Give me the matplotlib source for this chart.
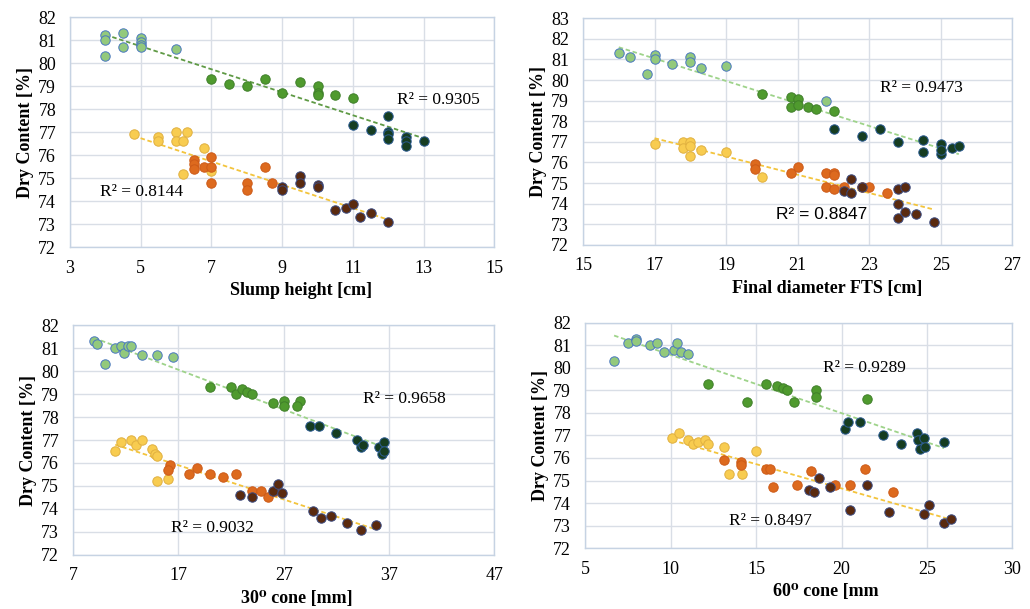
import matplotlib
matplotlib.use('Agg')
import matplotlib.pyplot as plt
import numpy as np

# dry content vs. workability tests, 6 mix groups per panel
# group order: light green, green, dark green, yellow, orange, brown

# --- slump height [cm]
slump_x = [
    [4, 4, 4, 4.5, 4.5, 5, 5, 5, 5, 6],
    [7, 7.5, 8, 8.5, 9, 9.5, 10, 10, 10, 10.5, 11],
    [11, 11.5, 12, 12, 12, 12, 12.5, 12.5, 12.5, 13],
    [4.8, 5.5, 5.5, 6, 6, 6.2, 6.3, 6.2, 6.8, 7],
    [6.5, 6.5, 6.5, 6.8, 7, 7, 7, 8, 8, 8.5, 8.7],
    [9, 9, 9.5, 9.5, 10, 10, 10.5, 10.8, 11, 11.2, 11.5, 12],
]
slump_y = [
    [81.2, 81.0, 80.3, 81.3, 80.7, 81.1, 80.9, 80.8, 80.7, 80.6],
    [79.3, 79.1, 79.0, 79.3, 78.7, 79.2, 79.0, 78.7, 78.6, 78.6, 78.5],
    [77.3, 77.1, 77.7, 77.0, 76.9, 76.7, 76.8, 76.6, 76.4, 76.6],
    [76.9, 76.8, 76.6, 77.0, 76.6, 76.6, 77.0, 75.2, 76.3, 75.3],
    [75.8, 75.6, 75.4, 75.5, 75.9, 75.5, 74.8, 74.8, 74.5, 75.5, 74.8],
    [74.6, 74.5, 75.1, 74.8, 74.7, 74.6, 73.6, 73.7, 73.9, 73.3, 73.5, 73.1],
]

# --- final diameter FTS [cm]
fts_x = [
    [16, 16.3, 16.8, 17, 17, 17.5, 18, 18, 18.3, 19, 21.8],
    [20, 20.8, 20.8, 21, 21, 21.3, 21.5, 22],
    [22, 22.8, 23.3, 23.8, 24.5, 24.5, 25, 25, 25.3, 25.5, 25],
    [17, 17.8, 17.8, 18, 18, 18, 18.3, 19, 20],
    [19.8, 19.8, 20.8, 21, 21.8, 22, 22, 21.8, 22, 22.3, 22.8, 23, 23.5],
    [22.3, 22.5, 22.5, 22.8, 23.8, 24, 23.8, 23.8, 24, 24.3, 24.8],
]
fts_y = [
    [81.3, 81.1, 80.3, 81.2, 81.0, 80.8, 81.1, 80.9, 80.6, 80.7, 79.0],
    [79.3, 79.2, 78.7, 79.1, 78.8, 78.7, 78.6, 78.5],
    [77.6, 77.3, 77.6, 77.0, 77.1, 76.5, 76.9, 76.4, 76.7, 76.8, 76.6],
    [76.9, 77.0, 76.7, 77.0, 76.8, 76.3, 76.6, 76.5, 75.3],
    [75.9, 75.7, 75.5, 75.8, 75.5, 75.5, 75.4, 74.8, 74.7, 74.8, 74.8, 74.8, 74.5],
    [74.6, 75.2, 74.5, 74.8, 74.7, 74.8, 74.0, 73.3, 73.6, 73.5, 73.1],
]

# --- 30 deg cone [mm]
c30_x = [
    [9, 9.3, 10, 11, 11.5, 11.8, 12.2, 12.5, 13.5, 15, 16.5],
    [20, 22, 22.5, 23, 23.5, 24, 26, 27, 27, 28.5, 28.3],
    [29.5, 30.3, 32, 34, 34.3, 34.5, 36, 36.3, 36.5, 36.5],
    [11, 11.5, 12.5, 13, 13.5, 14.5, 14.8, 15, 15, 16],
    [16.2, 16, 18, 18.8, 20, 21.2, 22.5, 24, 24.8, 25.5, 26.2],
    [22.8, 24, 26, 26.5, 26.8, 29.8, 30.5, 31.5, 33, 34.3, 35.8],
]
c30_y = [
    [81.3, 81.2, 80.3, 81.0, 81.1, 80.8, 81.1, 81.1, 80.7, 80.7, 80.6],
    [79.3, 79.3, 79.0, 79.2, 79.1, 79.0, 78.6, 78.7, 78.5, 78.7, 78.5],
    [77.6, 77.6, 77.3, 77.0, 76.7, 76.8, 76.7, 76.4, 76.9, 76.5],
    [76.5, 76.9, 77.0, 76.8, 77.0, 76.6, 76.4, 76.3, 75.2, 75.3],
    [75.9, 75.7, 75.5, 75.8, 75.5, 75.4, 75.5, 74.8, 74.8, 74.5, 74.8],
    [74.6, 74.5, 74.8, 75.1, 74.7, 73.9, 73.6, 73.7, 73.4, 73.1, 73.3],
]

# --- 60 deg cone [mm]
c60_x = [
    [6.7, 7.5, 8, 8, 8.8, 9.2, 9.6, 10.2, 10.4, 10.6, 11],
    [12.2, 14.5, 15.6, 16.2, 16.6, 16.8, 17.2, 18.5, 18.5, 21.5],
    [20.2, 20.4, 21.1, 22.4, 23.5, 24.4, 24.5, 24.6, 24.8, 24.9, 26],
    [10.1, 10.5, 11, 11.3, 11.6, 12, 12.2, 13.1, 13.4, 14.2, 15],
    [13.1, 14.1, 14.1, 15.6, 15.8, 16, 17.4, 18.2, 19.6, 20.5, 21.4, 23],
    [18.1, 18.4, 18.7, 19.3, 20.5, 21.5, 22.8, 24.8, 25.1, 26, 26.4],
]
c60_y = [
    [80.3, 81.1, 81.3, 81.2, 81.0, 81.1, 80.7, 80.8, 81.1, 80.7, 80.6],
    [79.3, 78.5, 79.3, 79.2, 79.1, 79.0, 78.5, 79.0, 78.7, 78.6],
    [77.3, 77.6, 77.6, 77.0, 76.6, 77.1, 76.8, 76.4, 76.9, 76.5, 76.7],
    [76.9, 77.1, 76.8, 76.6, 76.7, 76.8, 76.6, 76.5, 75.3, 75.3, 76.3],
    [75.9, 75.8, 75.7, 75.5, 75.5, 74.7, 74.8, 75.4, 74.8, 74.8, 75.5, 74.5],
    [74.6, 74.5, 75.1, 74.7, 73.7, 74.8, 73.6, 73.5, 73.9, 73.1, 73.3],
]

colors = ['#93c97c', '#4f9a2e', '#163d21', '#f8cc50', '#dd6a1e', '#5a2a0f']
edges = ['#4a78c0', '#3f7f2a', '#2a5a90', '#e0b040', '#cc5a18', '#3a4a80']

panels = [
    dict(x=slump_x, y=slump_y, rect=[0.068, 0.594, 0.412, 0.378],
         xlim=(3, 15), xticks=np.arange(3, 16, 2), ylim=(72, 82),
         xlabel='Slump height [cm]', xlab_pos=0.544, gline='#5f9a45',
         r2=[(12.25, 78.4, 'R² = 0.9305', 'serif'), (3.85, 74.4, 'R² = 0.8144', 'serif')]),
    dict(x=fts_x, y=fts_y, rect=[0.566, 0.598, 0.417, 0.372],
         xlim=(15, 27), xticks=np.arange(15, 28, 2), ylim=(72, 83),
         xlabel='Final diameter FTS [cm]', xlab_pos=0.569, gline='#9ed38a',
         r2=[(23.3, 79.6, 'R² = 0.9473', 'serif'), (20.4, 73.45, 'R² = 0.8847', 'sans-serif')]),
    dict(x=c30_x, y=c30_y, rect=[0.071, 0.089, 0.409, 0.377],
         xlim=(7, 47), xticks=np.arange(7, 48, 10), ylim=(72, 82),
         xlabel='30⁰ cone [mm]', xlab_pos=0.531, gline='#9ed38a',
         r2=[(34.5, 78.8, 'R² = 0.9658', 'serif'), (16.3, 73.15, 'R² = 0.9032', 'serif')]),
    dict(x=c60_x, y=c60_y, rect=[0.568, 0.100, 0.415, 0.370],
         xlim=(5, 30), xticks=np.arange(5, 31, 5), ylim=(72, 82),
         xlabel='60⁰ cone [mm', xlab_pos=0.563, gline='#9ed38a',
         r2=[(18.9, 80.0, 'R² = 0.9289', 'serif'), (13.4, 73.2, 'R² = 0.8497', 'serif')]),
]

serif = ['Liberation Serif', 'DejaVu Serif']
sans = ['Liberation Sans', 'DejaVu Sans']

fig = plt.figure(figsize=(10.3, 6.09), dpi=100)

for p in panels:
    ax = fig.add_axes(p['rect'])
    ax.set_axisbelow(True)
    ax.grid(True, color='#d9dee6', linewidth=1.0)
    for s in ax.spines.values():
        s.set_color('#c6d3e3')
        s.set_linewidth(1.0)

    # trend lines, one for the green groups and one for the yellow/orange/brown
    for idx, col in [((0, 1, 2), p['gline']), ((3, 4, 5), '#f3c43c')]:
        xs = np.concatenate([p['x'][i] for i in idx])
        ys = np.concatenate([p['y'][i] for i in idx])
        k, b = np.polyfit(xs, ys, 1)
        xx = np.array([xs.min(), xs.max()])
        ax.plot(xx, k * xx + b, linestyle=(0, (2.5, 1.5)), color=col, linewidth=1.3, zorder=2)

    for i in range(6):
        ax.scatter(p['x'][i], p['y'][i], s=46, color=colors[i], edgecolors=edges[i],
                   linewidths=0.7, zorder=3)

    for tx, ty, txt, fam in p['r2']:
        ax.text(tx, ty, txt, fontsize=12.5, va='center',
                family=serif if fam == 'serif' else sans, zorder=4)

    ax.set_xlim(p['xlim'])
    ax.set_ylim(p['ylim'])
    ax.set_xticks(p['xticks'])
    ax.set_yticks(np.arange(p['ylim'][0], p['ylim'][1] + 1, 1))
    ax.tick_params(axis='x', length=0, labelsize=13, pad=9)
    ax.tick_params(axis='y', length=0, labelsize=13, pad=10)
    for lab in ax.get_xticklabels() + ax.get_yticklabels():
        lab.set_family(serif)
    ax.set_xlabel(p['xlabel'], fontsize=13, fontweight='bold', family=serif, labelpad=4,
                  x=p['xlab_pos'])
    ax.set_ylabel('Dry Content [%]', fontsize=13, fontweight='bold', family=serif, labelpad=3)

fig.savefig('out.png', dpi=100)
